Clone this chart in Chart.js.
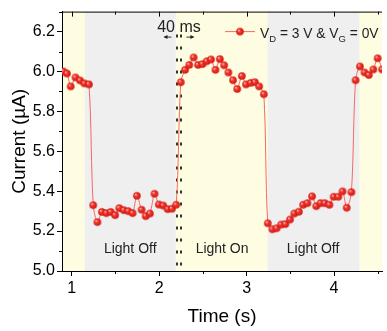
<!DOCTYPE html>
<html>
<head>
<meta charset="utf-8">
<script src="https://cdn.jsdelivr.net/npm/chart.js@4.4.1/dist/chart.umd.min.js"></script>
<style>
  body { margin: 0; background: #fff; }
  #wrap { width: 387px; height: 331px; }
</style>
</head>
<body>
<div id="wrap"><canvas id="photoChart" width="387" height="331"></canvas></div>
<script>
// time (s) and drain current (uA)
const times = [
  0.906, 0.947, 0.99, 1.045, 1.097, 1.146, 1.198,
  1.247, 1.295, 1.346, 1.397, 1.447, 1.497, 1.545, 1.596, 1.648, 1.697,
  1.746, 1.80, 1.847, 1.895, 1.948, 1.997, 2.046, 2.098, 2.147, 2.196,
  2.248, 2.297, 2.345, 2.395, 2.446, 2.496, 2.544, 2.593, 2.644, 2.694,
  2.744, 2.792, 2.845, 2.893, 2.946, 2.994, 3.047, 3.095, 3.144, 3.197,
  3.242, 3.295, 3.343, 3.396, 3.444, 3.497, 3.546, 3.598, 3.647, 3.695,
  3.748, 3.797, 3.846, 3.894, 3.947, 3.996, 4.048, 4.097, 4.145, 4.198,
  4.246, 4.296, 4.348, 4.397, 4.449, 4.498, 4.55
];
const current = [
  6.0, 5.99, 5.925, 5.97, 5.955, 5.94, 5.935,
  5.33, 5.245, 5.296, 5.29, 5.296, 5.28, 5.315, 5.305, 5.30, 5.29,
  5.377, 5.307, 5.275, 5.288, 5.387, 5.333, 5.328, 5.31, 5.312, 5.332,
  5.946, 6.008, 6.033, 6.07, 6.033, 6.037, 6.051, 6.06, 6.008, 6.062,
  6.031, 5.995, 5.956, 5.912, 5.977, 5.935, 5.943, 5.946, 5.925, 5.886,
  5.239, 5.209, 5.214, 5.233, 5.235, 5.258, 5.288, 5.297, 5.332, 5.34,
  5.374, 5.325, 5.34, 5.34, 5.332, 5.372, 5.372, 5.399, 5.317, 5.395,
  5.956, 6.025, 5.995, 5.982, 6.01, 6.066, 6.01
];

const xTicks = [1, 2, 3, 4];
const xMinorTicks = [1.5, 2.5, 3.5, 4.5];
const yTicks = [5.0, 5.2, 5.4, 5.6, 5.8, 6.0, 6.2];
const yMinorTicks = [5.1, 5.3, 5.5, 5.7, 5.9, 6.1, 6.3];

// light off periods (grey), everything else is light on (yellow)
const offStart = [1.15, 3.24];
const offEnd = [2.19, 4.29];
const bandLabels = ["Light Off", "Light On", "Light Off"];
const bandLabelX = [1.67, 2.72, 3.76];
const bandLabelY = 5.108;

// the 40 ms marker lines
const markerTimes = [2.199, 2.255];

const FONT = "'Liberation Sans', Arial, sans-serif";

// little shaded ball used as the point marker
const makeBall = (r) => {
  const c = document.createElement("canvas");
  const s = Math.ceil(r * 2) + 2;
  c.width = s;
  c.height = s;
  const g = c.getContext("2d");
  const cx = s / 2, cy = s / 2;
  const grad = g.createRadialGradient(cx - r * 0.35, cy - r * 0.35, 0.2, cx, cy, r);
  grad.addColorStop(0, "#ffc2bb");
  grad.addColorStop(0.35, "#f23a30");
  grad.addColorStop(1, "#d0140e");
  g.fillStyle = grad;
  g.beginPath();
  g.arc(cx, cy, r, 0, Math.PI * 2);
  g.fill();
  return c;
};
const ball = makeBall(3.8);

const backgroundPlugin = {
  id: "bands",
  beforeDraw(chart) {
    const { ctx, chartArea, scales } = chart;
    const { left, right, top, bottom } = chartArea;
    ctx.save();
    ctx.fillStyle = "#fffde1";
    ctx.fillRect(left, top, right - left, bottom - top);
    ctx.fillStyle = "#efeff0";
    offStart.forEach((s, i) => {
      const x0 = Math.max(left, scales.x.getPixelForValue(s));
      const x1 = Math.min(right, scales.x.getPixelForValue(offEnd[i]));
      ctx.fillRect(x0, top, x1 - x0, bottom - top);
    });
    ctx.restore();
  },
  beforeDatasetsDraw(chart) {
    const { ctx, chartArea, scales } = chart;
    ctx.save();
    // band captions
    ctx.font = "14px " + FONT;
    ctx.fillStyle = "#222";
    ctx.textAlign = "center";
    ctx.textBaseline = "middle";
    bandLabels.forEach((t, i) => {
      ctx.fillText(t, scales.x.getPixelForValue(bandLabelX[i]), scales.y.getPixelForValue(bandLabelY));
    });

    // dotted marker lines
    ctx.strokeStyle = "#333";
    ctx.lineWidth = 2;
    ctx.setLineDash([3, 9]);
    markerTimes.forEach((t) => {
      const x = Math.round(scales.x.getPixelForValue(t));
      ctx.beginPath();
      ctx.moveTo(x, chartArea.top + 23);
      ctx.lineTo(x, chartArea.bottom);
      ctx.stroke();
    });
    ctx.setLineDash([]);

    // small arrows + label
    const xa = scales.x.getPixelForValue(markerTimes[0]);
    const xb = scales.x.getPixelForValue(markerTimes[1]);
    const ya = chartArea.top + 25.5;
    ctx.lineWidth = 1;
    ctx.fillStyle = "#222";
    ctx.beginPath();
    ctx.moveTo(xa - 12, ya); ctx.lineTo(xa - 5, ya);
    ctx.moveTo(xb + 5, ya); ctx.lineTo(xb + 12, ya);
    ctx.stroke();
    ctx.beginPath();
    ctx.moveTo(xa - 13, ya); ctx.lineTo(xa - 9, ya - 2); ctx.lineTo(xa - 9, ya + 2); ctx.closePath();
    ctx.moveTo(xb + 13, ya); ctx.lineTo(xb + 9, ya - 2); ctx.lineTo(xb + 9, ya + 2); ctx.closePath();
    ctx.fill();
    ctx.font = "16px " + FONT;
    ctx.textBaseline = "alphabetic";
    ctx.fillText("40 ms", (xa + xb) / 2, chartArea.top + 20);
    ctx.restore();
  },
  afterDraw(chart) {
    const { ctx, chartArea, scales } = chart;
    const { left, right, top, bottom } = chartArea;
    ctx.save();
    ctx.strokeStyle = "#000";
    ctx.lineWidth = 1;
    ctx.beginPath();
    // top frame
    ctx.moveTo(left, top + 0.5);
    ctx.lineTo(right, top + 0.5);
    xTicks.forEach((v) => {
      const x = Math.round(scales.x.getPixelForValue(v)) + 0.5;
      ctx.moveTo(x, top); ctx.lineTo(x, top + 5);
    });
    xMinorTicks.forEach((v) => {
      const x = Math.round(scales.x.getPixelForValue(v)) + 0.5;
      ctx.moveTo(x, top); ctx.lineTo(x, top + 3);
      ctx.moveTo(x, bottom); ctx.lineTo(x, bottom + 3);
    });
    yMinorTicks.forEach((v) => {
      const y = Math.round(scales.y.getPixelForValue(v)) + 0.5;
      ctx.moveTo(left, y); ctx.lineTo(left - 3, y);
    });
    ctx.stroke();

    // legend with subscripts
    const ly = top + 20;
    ctx.strokeStyle = "#f26a62";
    ctx.beginPath();
    ctx.moveTo(225, ly); ctx.lineTo(255, ly);
    ctx.stroke();
    ctx.drawImage(ball, 240 - ball.width / 2, ly - ball.height / 2);
    ctx.fillStyle = "#222";
    ctx.textBaseline = "alphabetic";
    let x = 260;
    const base = ly + 6;
    const parts = [["V", 0], ["D", 1], [" = 3 V & V", 0], ["G", 1], [" = 0V", 0]];
    parts.forEach(([t, sub]) => {
      ctx.font = (sub ? "9.5px " : "13.8px ") + FONT;
      ctx.fillText(t, x, sub ? base + 4 : base);
      x += ctx.measureText(t).width;
    });
    ctx.restore();
  }
};

const points = times.map((t, i) => ({ x: t, y: current[i] }));

new Chart(document.getElementById("photoChart"), {
  type: "line",
  data: {
    datasets: [{
      label: "VD = 3 V & VG = 0V",
      data: points,
      borderColor: "#f26a62",
      borderWidth: 1,
      tension: 0.3,
      pointStyle: ball,
      pointRadius: 4,
      pointHoverRadius: 4
    }]
  },
  options: {
    responsive: false,
    animation: false,
    layout: { padding: { top: 5, right: 0, left: 0, bottom: 0 } },
    plugins: { legend: { display: false }, tooltip: { enabled: false } },
    scales: {
      x: {
        type: "linear",
        min: 0.89,
        max: 4.548,
        afterBuildTicks: (s) => { s.ticks = xTicks.map((v) => ({ value: v })); },
        afterFit: (s) => { s.height = 60; },
        grid: { drawOnChartArea: false, tickLength: 5, tickColor: "#000" },
        border: { color: "#000", width: 1 },
        ticks: { color: "#000", font: { size: 16, family: FONT }, padding: 3, maxRotation: 0 },
        title: { display: true, text: "Time (s)", color: "#000", font: { size: 19, family: FONT }, padding: { top: 0, bottom: 3 } }
      },
      y: {
        min: 5.0,
        max: 6.3,
        afterBuildTicks: (s) => { s.ticks = yTicks.map((v) => ({ value: v })); },
        afterFit: (s) => { s.width = 62; },
        grid: { drawOnChartArea: false, tickLength: 5, tickColor: "#000" },
        border: { color: "#000", width: 1 },
        ticks: { color: "#000", font: { size: 16, family: FONT }, padding: 2, callback: (v) => v.toFixed(1) },
        title: { display: true, text: "Current (\u00b5A)", color: "#000", font: { size: 19, family: FONT }, padding: { top: 8, bottom: 0 } }
      }
    }
  },
  plugins: [backgroundPlugin]
});
</script>
</body>
</html>
